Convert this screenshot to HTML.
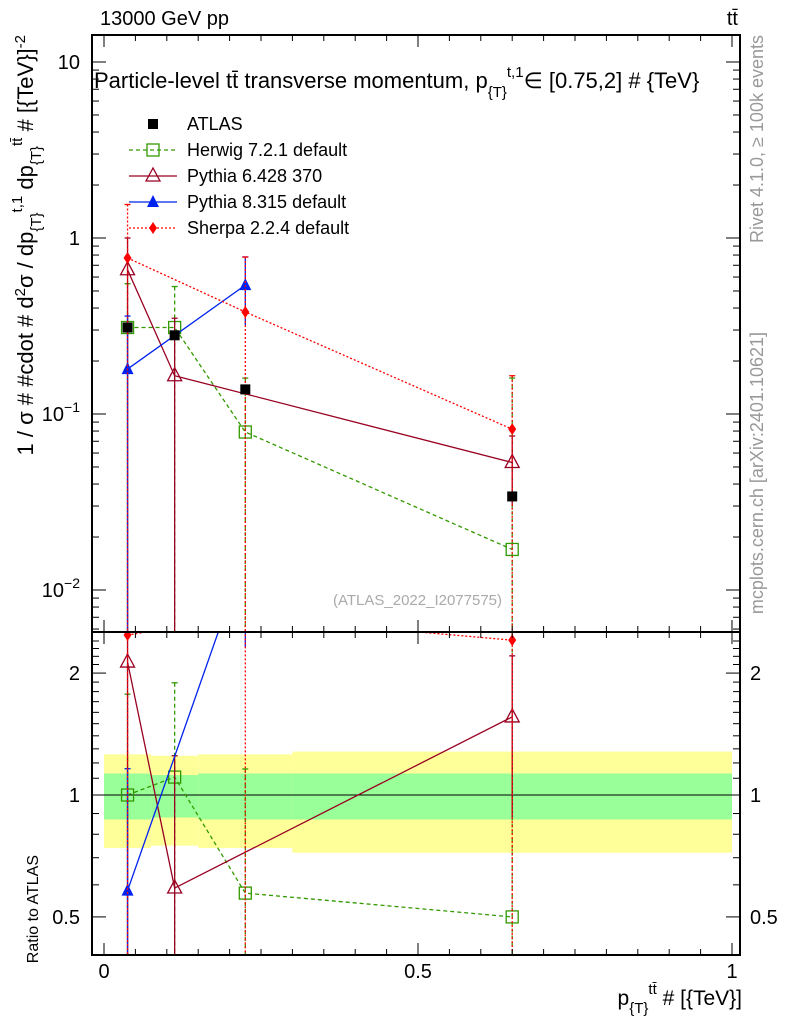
<!DOCTYPE html>
<html><head><meta charset="utf-8"><style>
html,body{margin:0;background:#fff;width:786px;height:1024px;overflow:hidden}
svg{display:block;font-family:"Liberation Sans",sans-serif}
</style></head><body>
<svg id="c" width="786" height="1024"></svg>
<script>
const xCenters=[0.0375,0.1125,0.225,0.65];
const binEdges=[0,0.075,0.15,0.3,1.0];
const atlas=[0.31,0.28,0.138,0.034];
const herwig=[0.31,0.31,0.079,0.017];
const herwigErrHi=[0.55,0.53,0.16,0.16];
const herwigErrLo=[0.001,0.001,0.001,0.001];
const py6X=[0.0375,0.1125,0.65];
const py6=[0.66,0.165,0.053];
const py6ErrHi=[1.0,0.35,0.075];
const py6ErrLo=[0.001,0.001,0.03];
const py8X=[0.0375,0.225];
const py8=[0.18,0.54];
const py8ErrHi=[0.36,0.78];
const py8ErrLo=[0.001,0.32];
const sherpaX=[0.0375,0.225,0.65];
const sherpa=[0.77,0.38,0.082];
const sherpaErrHi=[1.55,0.78,0.165];
const sherpaErrLo=[0.001,0.001,0.001];
const bandGreen=[0.13,0.12,0.13,0.13];
const bandYellow=[0.26,0.25,0.26,0.28];
const xTicks=[0,0.5,1];
const xTickLabels=["0","0.5","1"];
const ratioTicks=[0.5,1,2];

const svg=document.getElementById('c');
const NS='http://www.w3.org/2000/svg';
function el(tag,attrs,parent){const e=document.createElementNS(NS,tag);for(const k in attrs)e.setAttribute(k,attrs[k]);(parent||svg).appendChild(e);return e;}
const L=92,R=740,T=35,M=632,B=955;
const X=v=>104+v*628;
const Y=v=>238-176*Math.log10(v);
const YR=v=>795-405*Math.log10(v);
const clipT=el('clipPath',{id:'ct'});el('rect',{x:L,y:T,width:R-L,height:M-T},clipT);
const clipR=el('clipPath',{id:'cr'});el('rect',{x:L,y:M,width:R-L,height:B-M},clipR);
const gB=el('g',{'clip-path':'url(#cr)'});

for(let i=0;i<4;i++){
  const r1=el('rect',{x:X(binEdges[i]),y:YR(1+bandYellow[i]),width:X(binEdges[i+1])-X(binEdges[i]),height:YR(1-bandYellow[i])-YR(1+bandYellow[i]),fill:'#ffff99'},gB);
  
  const r2=el('rect',{x:X(binEdges[i]),y:YR(1+bandGreen[i]),width:X(binEdges[i+1])-X(binEdges[i]),height:YR(1-bandGreen[i])-YR(1+bandGreen[i]),fill:'#99ff99'},gB);
  
}
el('line',{x1:L,x2:R,y1:YR(1),y2:YR(1),stroke:'#000','stroke-width':1});
function marker(g,type,x,y,col){
  if(type==='sq')el('rect',{x:x-5,y:y-5,width:10,height:10,fill:'#000'},g);
  if(type==='osq')el('rect',{x:x-6,y:y-6,width:12,height:12,fill:'none',stroke:col,'stroke-width':1.3},g);
  if(type==='otri')el('polygon',{points:`${x},${y-8} ${x-7},${y+5} ${x+7},${y+5}`,fill:'none',stroke:col,'stroke-width':1.3},g);
  if(type==='tri')el('polygon',{points:`${x},${y-7} ${x-6},${y+5} ${x+6},${y+5}`,fill:col},g);
  if(type==='dia')el('polygon',{points:`${x},${y-6} ${x+4},${y} ${x},${y+6} ${x-4},${y}`,fill:col},g);
}
function series(name,xs,vals,hi,lo,col,dash,type,ref,noLine){
  const gt=el('g',{'clip-path':'url(#ct)'});
  
  const gr=el('g',{'clip-path':'url(#cr)'});
  
  if(vals.length>1&&!noLine){
    el('polyline',{points:xs.map((x,i)=>X(x)+','+Y(vals[i])).join(' '),fill:'none',stroke:col,'stroke-width':1.3,'stroke-dasharray':dash},gt);
  }
  if(ref){
    el('polyline',{points:xs.map((x,i)=>X(x)+','+YR(vals[i]/ref[xCenters.indexOf(x)])).join(' '),fill:'none',stroke:col,'stroke-width':1.3,'stroke-dasharray':dash},gr);
  }
  xs.forEach((x,i)=>{
    if(hi){
      el('line',{x1:X(x),x2:X(x),y1:Y(hi[i]),y2:Y(lo[i]),stroke:col,'stroke-width':1.3,'stroke-dasharray':dash},gt);
      el('line',{x1:X(x)-3,x2:X(x)+3,y1:Y(hi[i]),y2:Y(hi[i]),stroke:col,'stroke-width':1.3},gt);
      if(ref){const r=ref[xCenters.indexOf(x)];
        el('line',{x1:X(x),x2:X(x),y1:YR(hi[i]/r),y2:YR(lo[i]/r),stroke:col,'stroke-width':1.3,'stroke-dasharray':dash},gr);
        el('line',{x1:X(x)-3,x2:X(x)+3,y1:YR(hi[i]/r),y2:YR(hi[i]/r),stroke:col,'stroke-width':1.3},gr);}
    }
    marker(gt,type,X(x),Y(vals[i]),col);
    if(ref)marker(gr,type,X(x),YR(vals[i]/ref[xCenters.indexOf(x)]),col);
  });
}
series('herwig',xCenters,herwig,herwigErrHi,herwigErrLo,'#339900','4,3','osq',atlas);
series('pythia6',py6X,py6,py6ErrHi,py6ErrLo,'#990022','','otri',atlas);
series('pythia8',py8X,py8,py8ErrHi,py8ErrLo,'#0022ee','','tri',atlas);
series('sherpa',sherpaX,sherpa,sherpaErrHi,sherpaErrLo,'#ff0000','2,2','dia',atlas);
series('atlas',xCenters,atlas,null,null,'#000','','sq',null,true);
el('rect',{x:L,y:T,width:R-L,height:M-T,fill:'none',stroke:'#000','stroke-width':2});
el('rect',{x:L,y:M,width:R-L,height:B-M,fill:'none',stroke:'#000','stroke-width':2});
for(let v=0;v<=1.001;v+=0.05){const big=Math.abs(v*10-Math.round(v*10))<1e-6&&Math.round(v*10)%5==0;const len=big?12:6;
  [[T,1],[M,-1],[M,1],[B,-1]].forEach(([y,s])=>el('line',{x1:X(v),x2:X(v),y1:y,y2:y+s*len,stroke:'#000'}));}
xTicks.forEach((v,i)=>{const t=el('text',{x:X(v),y:978,'font-size':20,'text-anchor':'middle'});t.textContent=xTickLabels[i];});
for(let d=-3;d<=1;d++)for(let m=1;m<10;m++){const v=m*Math.pow(10,d);const y=Y(v);if(y<T||y>M)continue;const len=m==1?14:7;
  el('line',{x1:L,x2:L+len,y1:y,y2:y,stroke:'#000'});el('line',{x1:R,x2:R-len,y1:y,y2:y,stroke:'#000'});}
[["10",10],["1",1]].forEach(([s,v])=>{const t=el('text',{x:80,y:Y(v)+7,'font-size':20,'text-anchor':'end'});t.textContent=s;});
[[0.1,"−1"],[0.01,"−2"]].forEach(([v,e])=>{const t=el('text',{x:80,y:Y(v)+7,'font-size':20,'text-anchor':'end'});t.innerHTML='10<tspan dy="-9" font-size="14">'+e+'</tspan>';});
for(let v=0.4;v<=2.5;v+=0.1){const y=YR(v);if(y<M||y>B)continue;const big=[0.5,1,2].some(q=>Math.abs(q-v)<1e-6);const len=big?14:7;
  el('line',{x1:L,x2:L+len,y1:y,y2:y,stroke:'#000'});el('line',{x1:R,x2:R-len,y1:y,y2:y,stroke:'#000'});}
ratioTicks.forEach(v=>{[[80,'end'],[750,'start']].forEach(([x,a])=>{const t=el('text',{x:x,y:YR(v)+7,'font-size':20,'text-anchor':a});t.textContent=String(v);});});
function txt(x,y,s,attrs,name){const t=el('text',Object.assign({x:x,y:y},attrs));t.innerHTML=s;return t;}
txt(100,25,'13000 GeV pp',{'font-size':20},'energy-label');
txt(738,25,'tt̄',{'font-size':20,'text-anchor':'end'},'process-label');
const tg=el('g',{'clip-path':'url(#ct)'});
const tt=el('text',{x:94,y:88,'font-size':22},tg);
tt.innerHTML='Particle-level tt̄ transverse momentum, p<tspan dy="9" font-size="15">{T}</tspan><tspan dy="-20" font-size="15">t,1</tspan><tspan dy="11">∈ [0.75,2] # {TeV}</tspan>';

txt(502,605,'(ATLAS_2022_I2077575)',{'font-size':15,fill:'#aaa','text-anchor':'end'},'analysis-id');
txt(742,1005,'p<tspan dy="8" font-size="15">{T}</tspan><tspan dy="-19" font-size="15">tt̄</tspan><tspan dy="11"> # [{TeV}]</tspan>',{'font-size':21,'text-anchor':'end'},'x-axis-title');
txt(0,0,'1 / σ # #cdot # d<tspan dy="-8" font-size="15">2</tspan><tspan dy="8">σ / dp</tspan><tspan dy="8" font-size="15">{T}</tspan><tspan dy="-19" font-size="15">t,1</tspan><tspan dy="11"> dp</tspan><tspan dy="8" font-size="15">{T}</tspan><tspan dy="-19" font-size="15">tt̄</tspan><tspan dy="11"> # [{TeV}]</tspan><tspan dy="-8" font-size="15">-2</tspan>',{'font-size':22,'text-anchor':'end',transform:'translate(33,35) rotate(-90)'},'y-axis-title');
txt(0,0,'Ratio to ATLAS',{'font-size':16,'text-anchor':'end',transform:'translate(38,855) rotate(-90)'},'ratio-axis-title');
txt(0,0,'Rivet 4.1.0, ≥ 100k events',{'font-size':18,fill:'#999','text-anchor':'end',transform:'translate(763,35) rotate(-90)'},'rivet-label');
txt(0,0,'mcplots.cern.ch [arXiv:2401.10621]',{'font-size':18,fill:'#999','text-anchor':'end',transform:'translate(763,332) rotate(-90)'},'mcplots-label');
const leg=[['ATLAS','#000','','sq'],['Herwig 7.2.1 default','#339900','4,3','osq'],['Pythia 6.428 370','#990022','','otri'],['Pythia 8.315 default','#0022ee','','tri'],['Sherpa 2.2.4 default','#ff0000','2,2','dia']];
leg.forEach((l,i)=>{const g=el('g',{});
  const y=124+i*26;
  if(i>0)el('line',{x1:129,x2:177,y1:y,y2:y,stroke:l[1],'stroke-width':1.3,'stroke-dasharray':l[2]},g);
  marker(g,l[3],153,y,l[1]);
  const t=el('text',{x:187,y:y+6,'font-size':18},g);t.textContent=l[0];});
</script>
</body></html>
